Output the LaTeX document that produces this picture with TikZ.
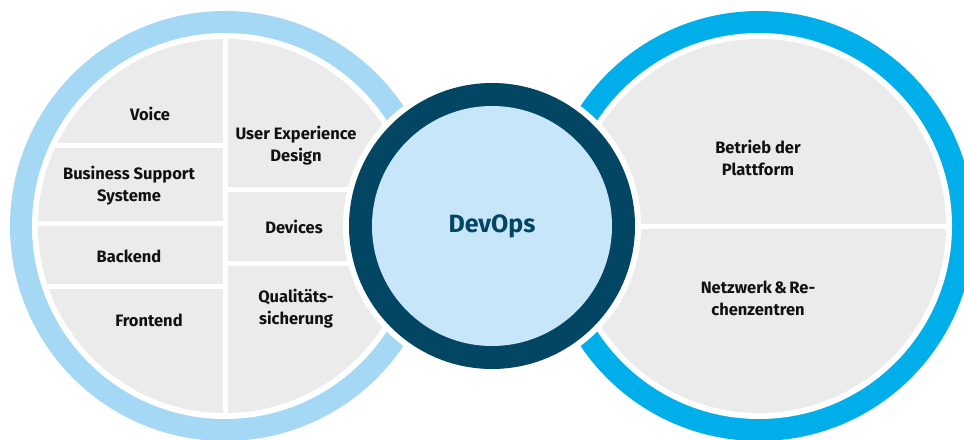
\documentclass[tikz,border=0pt]{standalone}
\usepackage{fontspec}
\setmainfont{Fira Sans}
\definecolor{ringL}{RGB}{165,216,245}
\definecolor{ringR}{RGB}{0,175,234}
\definecolor{darkR}{RGB}{2,70,99}
\definecolor{innerC}{RGB}{200,230,249}
\definecolor{grayF}{RGB}{235,235,235}
\definecolor{txt}{RGB}{17,17,17}
\begin{document}
\begin{tikzpicture}[x=1bp,y=-1bp,
  lbl/.style={font=\bfseries\fontsize{16.5bp}{22bp}\selectfont, align=center, text=txt, inner sep=0pt},
  divider/.style={draw=white, line width=5bp}]
\useasboundingbox (0,0) rectangle (964,440);
\clip (0,0) rectangle (964,440);
% left circle
\coordinate (cl) at (225,226);
\fill[ringL] (cl) circle (215bp);
\fill[white] (cl) circle (193bp);
\fill[grayF] (cl) circle (187bp);
\begin{scope}
  \clip (cl) circle (187bp);
  \path[divider] (225,0) -- (225,440);
  \path[divider] (0,145.5) -- (225,145.5);
  \path[divider] (0,224) -- (225,224);
  \path[divider] (0,286.5) -- (225,286.5);
  \path[divider] (225,189.5) -- (450,189.5);
  \path[divider] (225,263.5) -- (450,263.5);
\end{scope}
% right circle
\coordinate (cr) at (759,226);
\fill[ringR] (cr) circle (215bp);
\fill[white] (cr) circle (193bp);
\fill[grayF] (cr) circle (187bp);
\begin{scope}
  \clip (cr) circle (187bp);
  \path[divider] (500,226.5) -- (1000,226.5);
\end{scope}
% center
\coordinate (cc) at (492,226);
\fill[white] (cc) circle (149bp);
\fill[darkR] (cc) circle (143bp);
\fill[innerC] (cc) circle (120bp);
\node[font=\bfseries\fontsize{25bp}{30bp}\selectfont, text=darkR, inner sep=0pt] (devops) at (cc) {DevOps};
% labels left
\node[lbl] (voice) at (150,114) {Voice};
\node[lbl] (bss) at (129,186) {Business Support\\Systeme};
\node[lbl] (backend) at (129,256) {Backend};
\node[lbl] (frontend) at (149,320) {Frontend};
\node[lbl] (ued) at (296,146) {User Experience\\Design};
\node[lbl] (devices) at (294,227) {Devices};
\node[lbl] (qs) at (296,308.5) {Qualitäts-\\sicherung};
% labels right
\node[lbl] (betrieb) at (758,157.5) {Betrieb der\\Plattform};
\node[lbl] (netz) at (758,298) {Netzwerk\hspace{0.15em}\&\hspace{0.15em}Re-\\chenzentren};
\end{tikzpicture}
\end{document}
